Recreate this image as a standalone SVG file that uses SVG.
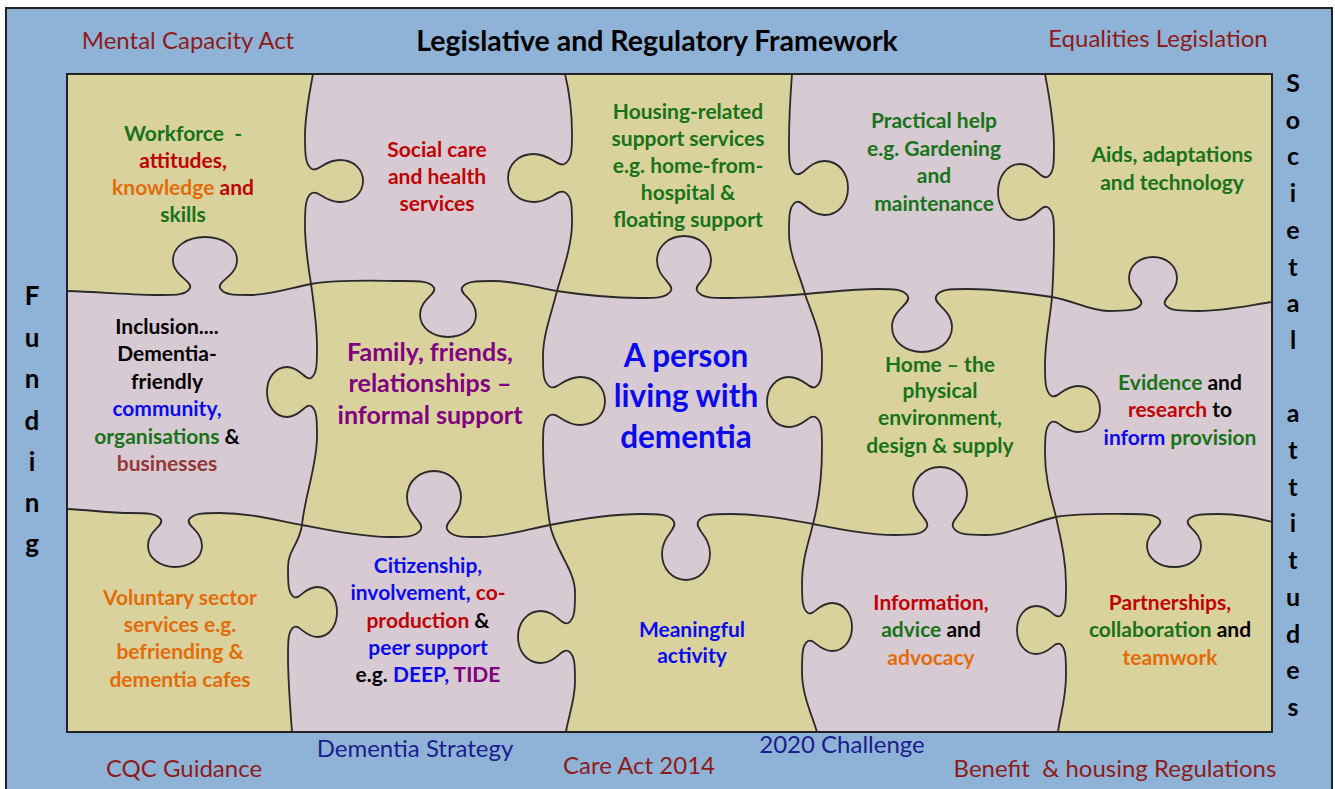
<svg xmlns="http://www.w3.org/2000/svg" width="1335" height="789" viewBox="0 0 1335 789">
<defs>
<clipPath id="inner"><rect x="67" y="74" width="1205" height="658"/></clipPath>
<style>
.lbl{font-family:Lato,'Liberation Sans',sans-serif;font-size:24px;text-anchor:middle}
.ttl{font-family:Lato,'Liberation Sans',sans-serif;font-size:28.5px;font-weight:700;text-anchor:middle;fill:#000}
.side{font-family:Lato,'Liberation Sans',sans-serif;font-size:26px;font-weight:700;text-anchor:middle;fill:#000}
.pc{font-family:Lato,'Liberation Sans',sans-serif;font-size:21px;font-weight:700;text-anchor:middle}
.fam{font-size:25px}
.ctr{font-size:31.5px}
.dr{fill:#8E1B1B}.nv{fill:#1C1C8E}
.g{fill:#187318}.r{fill:#C00000}.o{fill:#E36C0A}.b{fill:#0A0AEE}.p{fill:#800080}.k{fill:#000}.br{fill:#953735}
</style>
</defs>
<rect x="0" y="0" width="1335" height="789" fill="#fff"/>
<g id="frame">
<rect x="6" y="8" width="1326" height="800" fill="#8FB3D6" stroke="#222" stroke-width="2"/>
</g>
<g id="puzzle">
<rect x="67" y="74" width="1205" height="658" fill="#D9D29D"/>
<path clip-path="url(#inner)" fill="#D7CAD3" fill-rule="evenodd" stroke="#2a2a2a" stroke-width="1.8" d="M67,291 C100,292 135,295 160,295 C177,295 186,295 190,288 C193,281.1 173,275.9 173,260.2 C173,246.3 187.4,237 205,237 C222.6,237 237,246.3 237,260.2 C237,275.9 217,281.1 220,288 C224,295 233,295 250,295 C270,295 290,288 311,284 C340,279 380,281 403,281 C420,281 430,281 434,287.7 C437,294.4 420,299.5 420,314.6 C420,328 432.6,337 448,337 C463.4,337 476,328 476,314.6 C476,299.5 459,294.4 462,287.7 C466,281 476,281 493,281 C515,281 535,287 557,291 C590,296 620,298 639,298 C656,298 667,298 671,290.6 C674,283.1 657,277.5 657,260.8 C657,245.9 669.2,236 684,236 C698.9,236 711,245.9 711,260.8 C711,277.5 694,283.1 697,290.6 C701,298 712,298 729,298 C755,298 780,296 805,294 C830,292 855,289 877,289 C894,289 904,289 908,296.6 C911,304.1 892,309.8 892,326.8 C892,341.9 905.5,352 922,352 C938.5,352 952,341.9 952,326.8 C952,309.8 933,304.1 936,296.6 C940,289 950,289 967,289 C995,289 1025,293 1052,297 C1075,301 1090,311 1108,311 C1125,311 1137,311 1141,304.5 C1144,298 1129,293.2 1129,278.6 C1129,265.6 1139.8,257 1153,257 C1166.2,257 1177,265.6 1177,278.6 C1177,293.2 1162,298 1165,304.5 C1169,311 1181,311 1198,311 C1225,311 1250,305 1272,302 L1290,302 L1290,760 L40,760 L40,291 Z
M67,509 C90,510 110,513 130,513 C147,513 157,513 161,519.5 C164,526 148,530.8 148,545.4 C148,558.4 160.2,567 175,567 C189.9,567 202,558.4 202,545.4 C202,530.8 186,526 189,519.5 C193,513 203,513 220,513 C250,513 275,520 302,525 C335,531 365,537 389,537 C406,537 417,537 421,529.1 C424,521.2 407,515.2 407,497.4 C407,481.6 419.2,471 434,471 C448.9,471 461,481.6 461,497.4 C461,515.2 444,521.2 447,529.1 C451,537 462,537 479,537 C505,537 528,529 550,525 C580,519 615,514 641,514 C658,514 670,514 674,521.9 C677,529.8 662,535.8 662,553.6 C662,569.4 672.8,580 686,580 C699.2,580 710,569.4 710,553.6 C710,535.8 695,529.8 698,521.9 C702,514 714,514 731,514 C760,514 785,519 813,524 C845,530 870,535 895,535 C912,535 923,535 927,526.8 C930,518.7 913,512.6 913,494.2 C913,477.9 925.2,467 940,467 C954.9,467 967,477.9 967,494.2 C967,512.6 950,518.7 953,526.8 C957,535 968,535 985,535 C1010,535 1033,522 1056,517 C1080,513 1105,514 1129,514 C1146,514 1156,514 1160,520.4 C1163,526.7 1147,531.5 1147,545.8 C1147,558.5 1159.2,567 1174,567 C1188.9,567 1201,558.5 1201,545.8 C1201,531.5 1185,526.7 1188,520.4 C1192,514 1202,514 1219,514 C1240,514 1258,518 1272,522 L1290,522 L1290,760 L40,760 L40,509 Z
M313,74 C309,95 305,115 305,136 C305,153 305,165 312,169 C318.9,172 324.1,160 339.8,160 C353.7,160 363,169.45 363,181 C363,192.55 353.7,202 339.8,202 C324.1,202 318.9,190 312,193 C305,197 305,209 305,226 C305,245 308,265 311,284 C314,305 317,325 317,347 C317,364 317,374 311,378 C305,381 300.5,367 287,367 C275,367 267,378.25 267,392 C267,405.75 275,417 287,417 C300.5,417 305,403 311,406 C317,410 317,420 317,437 C317,465 305,495 302,525 C299,545 288,550 288,567 C288,584 288,593 293.9,597 C299.8,600 304.2,587 317.4,587 C329.2,587 337,598.25 337,612 C337,625.75 329.2,637 317.4,637 C304.2,637 299.8,624 293.9,627 C288,631 288,640 288,657 C288,680 290,705 292,732 L292,760 L1290,760 L1290,50 L313,50 Z
M565,74 C570,95 572,115 572,133 C572,150 572,160 564.3,164 C556.6,167 550.9,154 533.6,154 C518.2,154 508,164.8 508,178 C508,191.2 518.2,202 533.6,202 C550.9,202 556.6,189 564.3,192 C572,196 572,206 572,223 C572,245 563,270 557,291 C551,315 543,335 543,356 C543,373 543,383 550.4,387 C557.9,390 563.5,377 580.2,377 C595.1,377 605,387.8 605,401 C605,414.2 595.1,425 580.2,425 C563.5,425 557.9,412 550.4,415 C543,419 543,429 543,446 C543,475 547,505 550,525 C555,550 575,570 575,592 C575,609 575,619 568.2,623 C561.3,626 556.2,611 540.8,611 C527.1,611 518,622.7 518,637 C518,651.3 527.1,663 540.8,663 C556.2,663 561.3,648 568.2,651 C575,655 575,665 575,682 C575,700 568,718 566,732 L566,760 L1290,760 L1290,50 L565,50 Z
M792,74 C790,100 789,120 789,143 C789,160 789,170 796.1,174 C803.2,177 808.5,161 824.4,161 C838.6,161 848,173.15 848,188 C848,202.85 838.6,215 824.4,215 C808.5,215 803.2,199 796.1,202 C789,206 789,216 789,233 C789,255 800,275 805,294 C812,315 822,335 822,357 C822,374 822,383 815.4,387 C808.8,390 803.8,377 789,377 C775.8,377 767,388.25 767,402 C767,415.75 775.8,427 789,427 C803.8,427 808.8,414 815.4,417 C822,421 822,430 822,447 C822,475 818,505 813,524 C808,545 802,560 802,582 C802,599 802,609 808,613 C814,616 818.5,603 832,603 C844,603 852,613.8 852,627 C852,640.2 844,651 832,651 C818.5,651 814,638 808,641 C802,645 802,655 802,672 C802,695 812,715 817,732 L817,760 L1290,760 L1290,50 L792,50 Z
M1045,74 C1050,100 1054,125 1054,147 C1054,164 1054,173 1047.3,177 C1040.6,180 1035.5,164 1020.4,164 C1007,164 998,176.6 998,192 C998,207.4 1007,220 1020.4,220 C1035.5,220 1040.6,204 1047.3,207 C1054,211 1054,220 1054,237 C1054,260 1053,280 1052,297 C1050,320 1045,340 1045,364 C1045,381 1045,392 1051.6,396 C1058.2,399 1063.2,386 1078,386 C1091.2,386 1100,396.35 1100,409 C1100,421.65 1091.2,432 1078,432 C1063.2,432 1058.2,419 1051.6,422 C1045,426 1045,437 1045,454 C1045,480 1052,500 1056,517 C1061,540 1066,560 1066,585 C1066,602 1066,612 1060.1,616 C1054.2,619 1049.8,606 1036.6,606 C1024.8,606 1017,616.8 1017,630 C1017,643.2 1024.8,654 1036.6,654 C1049.8,654 1054.2,641 1060.1,644 C1066,648 1066,658 1066,675 C1066,700 1060,715 1058,732 L1058,760 L1290,760 L1290,50 L1045,50 Z"/>
<rect x="67" y="74" width="1205" height="658" fill="none" stroke="#222" stroke-width="2"/>
</g>
<g id="frame-labels">
<text class="lbl dr" x="188" y="49">Mental Capacity Act</text>
<text class="ttl" x="657" y="51">Legislative and Regulatory Framework</text>
<text class="lbl dr" x="1158" y="47">Equalities Legislation</text>
<text class="lbl dr" x="184" y="777">CQC Guidance</text>
<text class="lbl nv" x="415" y="757">Dementia Strategy</text>
<text class="lbl dr" x="639" y="774">Care Act 2014</text>
<text class="lbl nv" x="842" y="753">2020 Challenge</text>
<text class="lbl dr" x="1115" y="777" xml:space="preserve">Benefit  &amp; housing Regulations</text>
</g>
<g id="funding">
<text class="side"><tspan x="32" y="305">F</tspan><tspan x="32" y="347">u</tspan><tspan x="32" y="388">n</tspan><tspan x="32" y="430">d</tspan><tspan x="32" y="471">i</tspan><tspan x="32" y="512">n</tspan><tspan x="32" y="553">g</tspan></text>
</g>
<g id="societal-attitudes">
<text class="side" style="font-size:25px"><tspan x="1293" y="92">S</tspan><tspan x="1293" y="128.7">o</tspan><tspan x="1293" y="165.4">c</tspan><tspan x="1293" y="202.1">i</tspan><tspan x="1293" y="238.8">e</tspan><tspan x="1293" y="275.5">t</tspan><tspan x="1293" y="312.2">a</tspan><tspan x="1293" y="348.9">l</tspan><tspan x="1293" y="422.3">a</tspan><tspan x="1293" y="459">t</tspan><tspan x="1293" y="495.7">t</tspan><tspan x="1293" y="532.4">i</tspan><tspan x="1293" y="569.1">t</tspan><tspan x="1293" y="605.8">u</tspan><tspan x="1293" y="642.5">d</tspan><tspan x="1293" y="679.2">e</tspan><tspan x="1293" y="715.9">s</tspan></text>
</g>
<g id="workforce">
<text class="pc g" x="183" y="141" xml:space="preserve">Workforce  -</text>
<text class="pc r" x="183" y="168">attitudes,</text>
<text class="pc" x="183" y="195"><tspan class="o">knowledge</tspan><tspan class="r"> and</tspan></text>
<text class="pc g" x="183" y="222">skills</text>
</g>
<g id="social-care">
<text class="pc r" x="437" y="157">Social care</text>
<text class="pc r" x="437" y="184">and health</text>
<text class="pc r" x="437" y="211">services</text>
</g>
<g id="housing">
<text class="pc g" x="688" y="119">Housing-related</text>
<text class="pc g" x="688" y="146">support services</text>
<text class="pc g" x="688" y="173">e.g. home-from-</text>
<text class="pc g" x="688" y="200">hospital &amp;</text>
<text class="pc g" x="688" y="227">floating support</text>
</g>
<g id="practical">
<text class="pc g" x="934" y="128">Practical help</text>
<text class="pc g" x="934" y="156">e.g. Gardening</text>
<text class="pc g" x="934" y="183">and</text>
<text class="pc g" x="934" y="211">maintenance</text>
</g>
<g id="aids">
<text class="pc g" x="1172" y="162">Aids, adaptations</text>
<text class="pc g" x="1172" y="190">and technology</text>
</g>
<g id="inclusion">
<text class="pc k" x="167" y="334">Inclusion....</text>
<text class="pc k" x="167" y="361">Dementia-</text>
<text class="pc k" x="167" y="389">friendly</text>
<text class="pc b" x="167" y="416">community,</text>
<text class="pc" x="167" y="444"><tspan class="g">organisations</tspan><tspan class="k"> &amp;</tspan></text>
<text class="pc br" x="167" y="471">businesses</text>
</g>
<g id="family">
<text class="pc fam p" x="430" y="361">Family, friends,</text>
<text class="pc fam p" x="430" y="392">relationships –</text>
<text class="pc fam p" x="430" y="424">informal support</text>
</g>
<g id="person">
<text class="pc ctr b" x="686" y="367">A person</text>
<text class="pc ctr b" x="686" y="407">living with</text>
<text class="pc ctr b" x="686" y="448">dementia</text>
</g>
<g id="home">
<text class="pc g" x="940" y="372">Home – the</text>
<text class="pc g" x="940" y="398">physical</text>
<text class="pc g" x="940" y="425">environment,</text>
<text class="pc g" x="940" y="453">design &amp; supply</text>
</g>
<g id="evidence">
<text class="pc" x="1180" y="390"><tspan class="g">Evidence</tspan><tspan class="k"> and</tspan></text>
<text class="pc" x="1180" y="417"><tspan class="r">research</tspan><tspan class="k"> to</tspan></text>
<text class="pc" x="1180" y="445"><tspan class="b">inform</tspan><tspan class="g"> provision</tspan></text>
</g>
<g id="voluntary">
<text class="pc o" x="180" y="605">Voluntary sector</text>
<text class="pc o" x="180" y="632">services e.g.</text>
<text class="pc o" x="180" y="659">befriending &amp;</text>
<text class="pc o" x="180" y="687">dementia cafes</text>
</g>
<g id="citizenship">
<text class="pc b" x="428" y="573">Citizenship,</text>
<text class="pc" x="428" y="600"><tspan class="b">involvement,</tspan><tspan class="r"> co-</tspan></text>
<text class="pc" x="428" y="628"><tspan class="r">production</tspan><tspan class="k"> &amp;</tspan></text>
<text class="pc b" x="428" y="655">peer support</text>
<text class="pc" x="428" y="682"><tspan class="k">e.g. </tspan><tspan class="b">DEEP,</tspan><tspan class="p"> TIDE</tspan></text>
</g>
<g id="meaningful">
<text class="pc b" x="692" y="637">Meaningful</text>
<text class="pc b" x="692" y="663">activity</text>
</g>
<g id="information">
<text class="pc r" x="931" y="610">Information,</text>
<text class="pc" x="931" y="637"><tspan class="g">advice</tspan><tspan class="k"> and</tspan></text>
<text class="pc o" x="931" y="665">advocacy</text>
</g>
<g id="partnerships">
<text class="pc r" x="1170" y="610">Partnerships,</text>
<text class="pc" x="1170" y="637"><tspan class="g">collaboration</tspan><tspan class="k"> and</tspan></text>
<text class="pc o" x="1170" y="665">teamwork</text>
</g>
</svg>
